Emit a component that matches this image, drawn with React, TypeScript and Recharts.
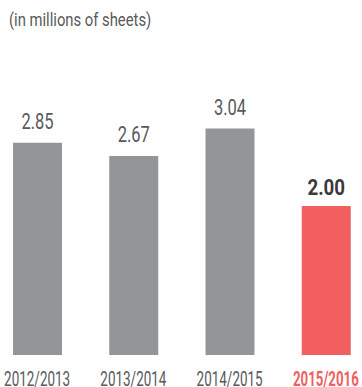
import React from "react";
import { BarChart, Bar, XAxis, YAxis, Cell, LabelList } from "recharts";

const categories = ["2012/2013", "2013/2014", "2014/2015", "2015/2016"];
const values = [2.85, 2.67, 3.04, 2.0];
const labels = ["2.85", "2.67", "3.04", "2.00"];
const title = "(in millions of sheets)";

const GRAY = "#949599";
const RED = "#F15F61";
const FONT = "Roboto, 'Liberation Sans', sans-serif";

const data = categories.map((c, i) => ({ name: c, value: values[i], label: labels[i] }));
const lastIdx = categories.length - 1;

const Tick = (props: any) => {
  const { x, y, payload, index } = props;
  const hl = index === lastIdx;
  return (
    <text
      transform={`translate(${x},${y + 22.5}) scale(${hl ? 0.68 : 0.69},1)`}
      x={0}
      y={0}
      textAnchor="middle"
      fontFamily={FONT}
      fontSize={19.5}
      fontWeight={hl ? "bold" : "normal"}
      fill={hl ? RED : "#58595B"}
    >
      {payload.value}
    </text>
  );
};

const ValueLabel = (props: any) => {
  const { x, y, width, index, value } = props;
  const hl = index === lastIdx;
  return (
    <text
      transform={`translate(${x + width / 2},${y - (hl ? 10.7 : 13.7)}) scale(${hl ? 0.85 : 0.75},1)`}
      x={0}
      y={0}
      textAnchor="middle"
      fontFamily={FONT}
      fontSize={22}
      fontWeight={hl ? "bold" : "normal"}
      fill={hl ? "#3A3A3C" : "#58595B"}
    >
      {value}
    </text>
  );
};

export default function App() {
  return (
    <div style={{ position: "absolute", left: 0, top: 0, width: 362, height: 387, background: "#fff" }}>
      <BarChart
        width={362}
        height={387}
        data={data}
        margin={{ top: 57, right: -12, bottom: 2, left: -11 }}
        barCategoryGap={0}
      >
        <XAxis
          dataKey="name"
          axisLine={false}
          tickLine={false}
          interval={0}
          height={30}
          tick={<Tick />}
        />
        <YAxis hide domain={[0, 4]} />
        <Bar dataKey="value" barSize={49} isAnimationActive={false}>
          {data.map((d, i) => (
            <Cell key={d.name} fill={i === lastIdx ? RED : GRAY} />
          ))}
          <LabelList dataKey="label" content={<ValueLabel />} />
        </Bar>
      </BarChart>
      <svg width={362} height={40} style={{ position: "absolute", left: 0, top: 0 }}>
        <text transform="translate(9,26) scale(0.78,1)" x={0} y={0} fontFamily={FONT} fontSize={19} fill="#58595B">
          {title}
        </text>
      </svg>
    </div>
  );
}
